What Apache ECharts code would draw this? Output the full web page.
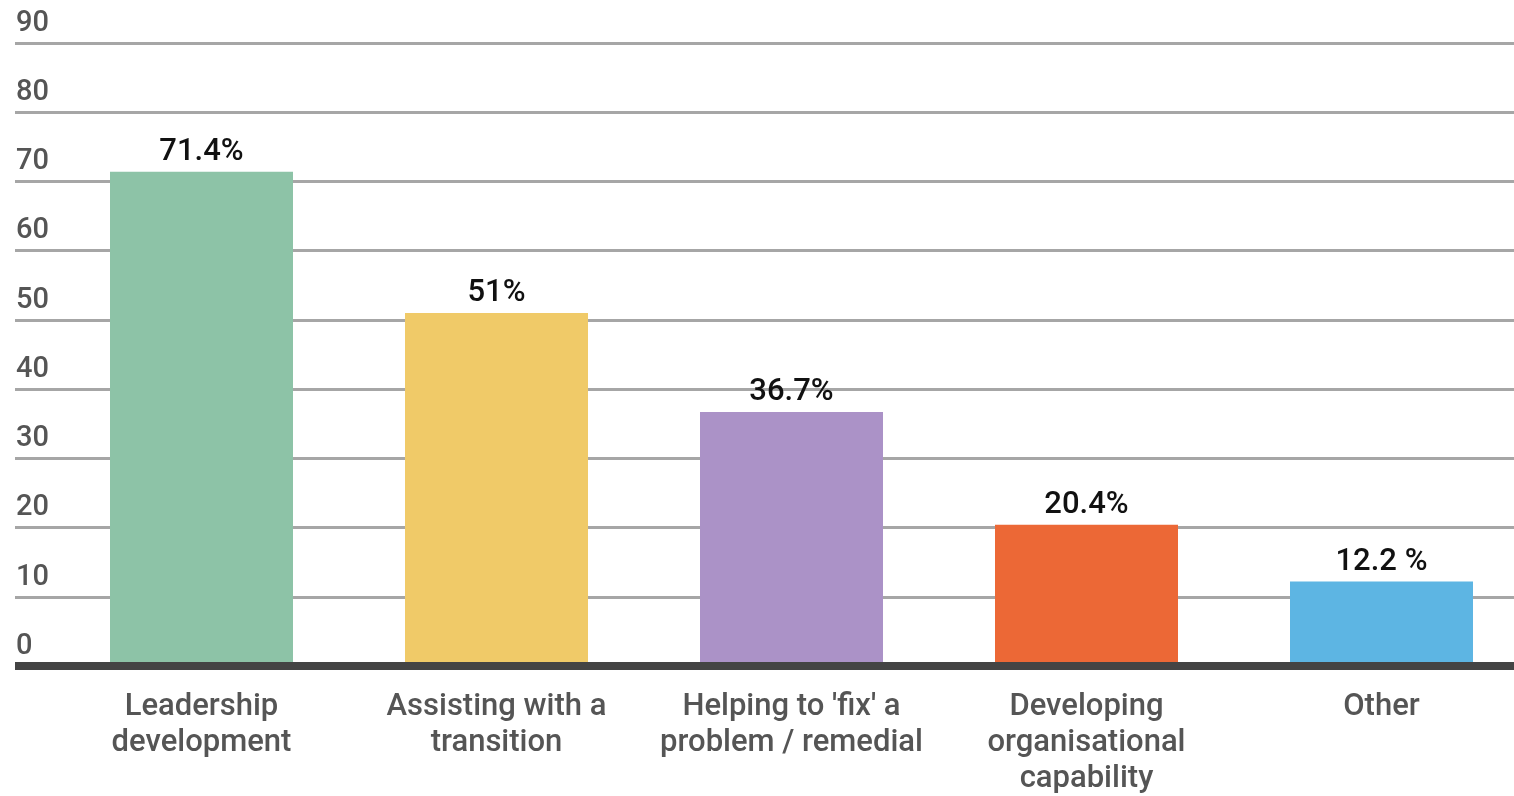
<!DOCTYPE html>
<html>
<head>
<meta charset="utf-8">
<script src="https://cdn.jsdelivr.net/npm/echarts@6/dist/echarts.min.js"></script>
<style>
  html, body { margin: 0; padding: 0; background: #fff; }
  #chart { width: 1514px; height: 796px; }
</style>
</head>
<body>
<div id="chart"></div>
<script>
// Purposes of the engagement (percentage of responses)
const categories = [
  'Leadership\ndevelopment',
  'Assisting with a\ntransition',
  "Helping to 'fix' a\nproblem / remedial",
  'Developing\norganisational\ncapability',
  'Other'
];
const values = [71.4, 51, 36.7, 20.4, 12.2];
const valueLabels = ['71.4%', '51%', '36.7%', '20.4%', '12.2 %'];
const barColors = ['#8dc3a7', '#f0ca68', '#ab92c7', '#ec6836', '#5db5e3'];
const yMin = 0, yMax = 90, yStep = 10;

const FONT = 'Roboto';
const chart = echarts.init(document.getElementById('chart'), null, { renderer: 'canvas' });

chart.setOption({
  animation: false,
  backgroundColor: '#ffffff',
  grid: [
    // bars and category labels (the band runs slightly past the right edge)
    { left: 54, right: -15, top: 43, bottom: 130, outerBoundsMode: 'none' },
    // full-width gridlines, value labels and baseline
    { left: 15, right: 0, top: 43, bottom: 130, outerBoundsMode: 'none' }
  ],
  xAxis: [
    {
      type: 'category', gridIndex: 0, data: categories,
      axisLine: { show: false }, axisTick: { show: false },
      axisLabel: {
        interval: 0, margin: 23, color: '#555555',
        fontFamily: FONT, fontSize: 31, fontWeight: 500, lineHeight: 36
      }
    },
    {
      type: 'category', gridIndex: 1, data: categories, z: 10,
      axisLine: { show: true, lineStyle: { color: '#444444', width: 8, cap: 'butt' } },
      axisTick: { show: false }, axisLabel: { show: false }
    }
  ],
  yAxis: [
    {
      type: 'value', gridIndex: 0, min: yMin, max: yMax, interval: yStep,
      axisLine: { show: false }, axisTick: { show: false },
      axisLabel: { show: false }, splitLine: { show: false }
    },
    {
      type: 'value', gridIndex: 1, min: yMin, max: yMax, interval: yStep,
      axisLine: { show: false }, axisTick: { show: false },
      splitLine: { show: true, lineStyle: { color: '#a6a6a6', width: 3 } },
      axisLabel: {
        inside: true, margin: 1, align: 'left', verticalAlign: 'bottom',
        padding: [0, 0, 5, 0],
        color: '#555555', fontFamily: FONT, fontSize: 29, fontWeight: 500
      }
    }
  ],
  series: [
    {
      type: 'bar', xAxisIndex: 0, yAxisIndex: 0,
      barWidth: 183,
      data: values.map((v, i) => ({ value: v, itemStyle: { color: barColors[i] } })),
      label: {
        show: true, position: 'top', distance: 4,
        formatter: p => valueLabels[p.dataIndex],
        color: '#111111', fontFamily: FONT, fontSize: 31, fontWeight: 500
      }
    }
  ]
});
</script>
</body>
</html>
